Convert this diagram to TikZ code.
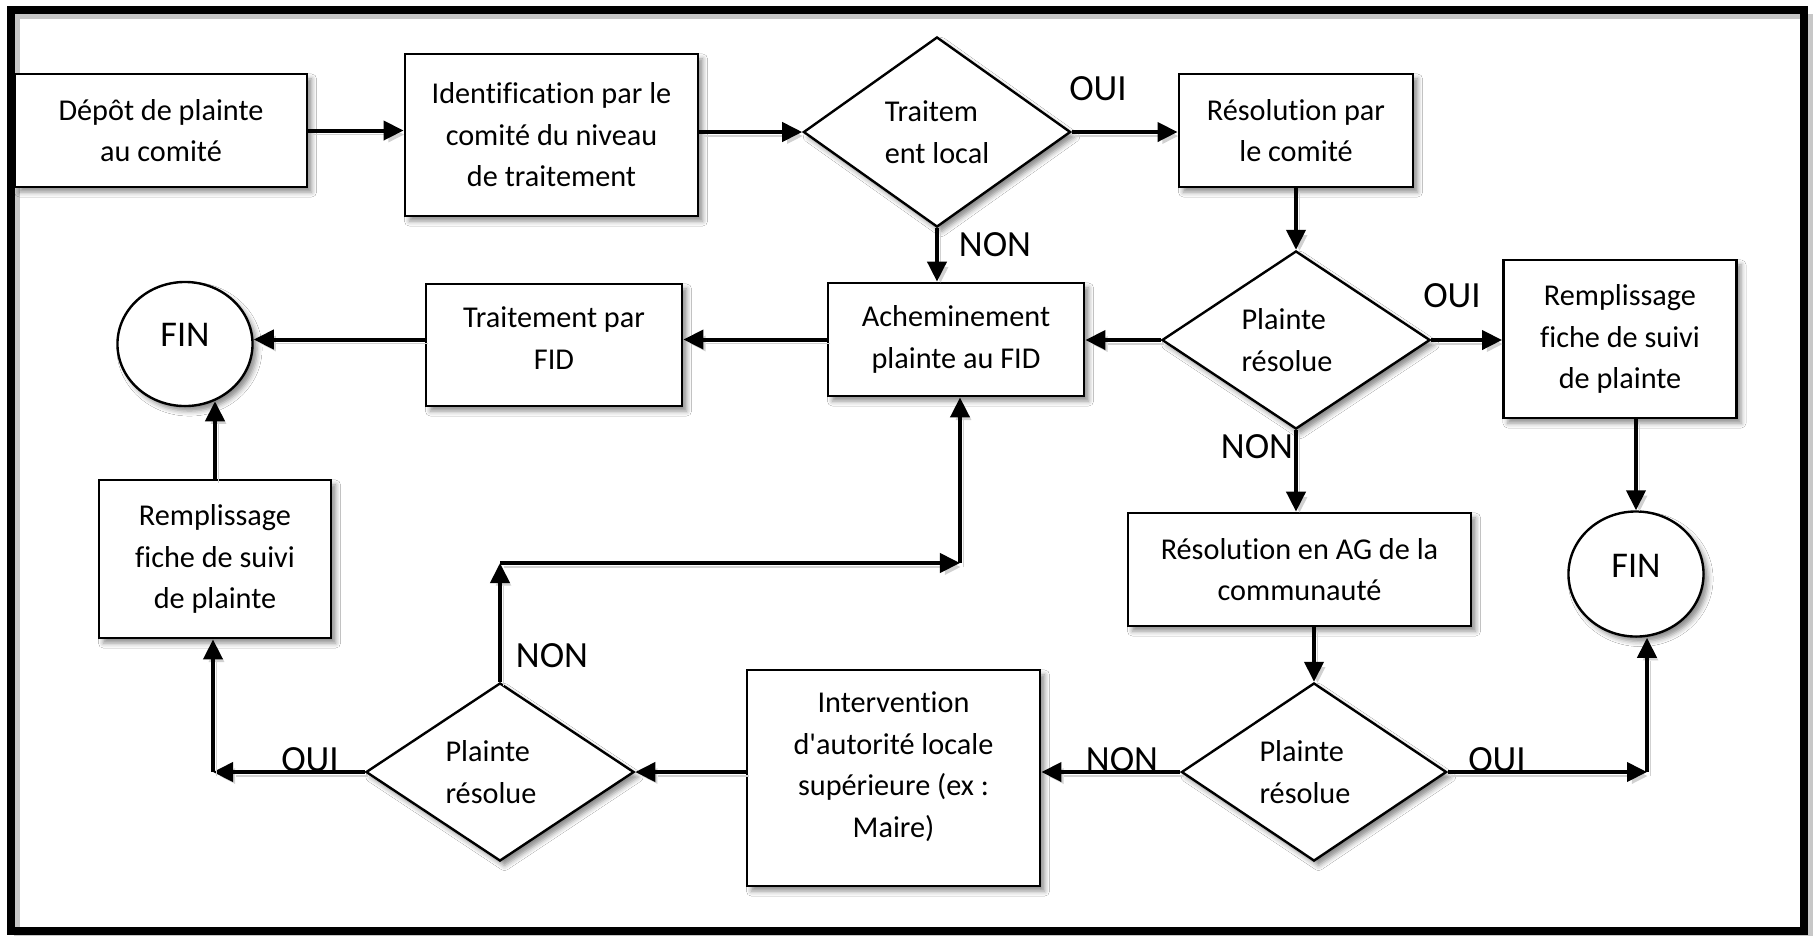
\documentclass[tikz,border=0pt]{standalone}
\usepackage{fontspec}
\setmainfont{Carlito}[Ligatures={TeXOff,NoCommon}]
\usetikzlibrary{arrows.meta,shapes.geometric,shadows.blur}
\newcommand{\txtfont}{\fontsize{8.6}{11.8}\selectfont}
\newcommand{\lblfont}{\fontsize{10.5}{12}\selectfont}
\newcommand{\finfont}{\fontsize{10.3}{12}\selectfont}
\begin{document}
\begin{tikzpicture}[x=0.01cm,y=-0.01cm,
  shad/.style={blur shadow={shadow xshift=0.045cm, shadow yshift=-0.05cm, shadow blur radius=0.05cm, shadow opacity=45}},
  box/.style={draw, line width=0.027cm, fill=white, align=center, font=\txtfont, inner sep=0pt, shad},
  dia/.style={diamond, draw, line width=0.024cm, fill=white, align=left, font=\txtfont, inner sep=0pt, shad},
  fin/.style={ellipse, draw, line width=0.024cm, fill=white, font=\finfont, inner sep=0pt, shad},
  lbl/.style={font=\lblfont, inner sep=0pt},
  arr/.style={line width=0.04cm, -{Triangle[length=0.2cm,width=0.19cm]},
    preaction={draw, black!18, transform canvas={shift={(0.035cm,-0.04cm)}}}},
]
\fill[white] (0,0) rectangle (1814,935);
\useasboundingbox (0,0) rectangle (1814,935);
% frame
\draw[line width=0.05cm, black!22] (17,16) rectangle (1810,937);
\draw[line width=0.08cm] (11,10) rectangle (1804,931);

% boxes
\node[box, minimum width=2.92cm, minimum height=1.13cm] (dep) at (161,130.5) {Dépôt de plainte\\au comité};
\node[box, minimum width=2.93cm, minimum height=1.62cm] (ident) at (551.5,135) {Identification par le\\comité du niveau\\de traitement};
\node[box, minimum width=2.34cm, minimum height=1.13cm] (res) at (1296,130.5) {Résolution par\\le comité};
\node[box, minimum width=2.56cm, minimum height=1.13cm] (ach) at (956,339.5) {Acheminement\\plainte au FID};
\node[box, minimum width=2.56cm, minimum height=1.22cm] (trt) at (554,345) {Traitement par\\FID\rule[-0.14cm]{0pt}{0pt}};
\node[box, minimum width=2.32cm, minimum height=1.58cm] (remL) at (215,559) {Remplissage\\fiche de suivi\\de plainte};
\node[box, minimum width=2.33cm, minimum height=1.58cm] (remR) at (1620,339) {Remplissage\\fiche de suivi\\de plainte};
\node[box, minimum width=3.43cm, minimum height=1.13cm] (ag) at (1299.5,569.5) {Résolution en AG de la\\communauté};
\node[box, minimum width=2.93cm, minimum height=2.16cm] (int) at (893.5,778) {Intervention\\d'autorité locale\\supérieure (ex :\\Maire)\rule[-0.27cm]{0pt}{0pt}};

% decisions
\node[dia, minimum width=2.67cm, minimum height=1.90cm] (d1) at (937,132) {Traitem\\ent local};
\node[dia, minimum width=2.68cm, minimum height=1.78cm] (d2) at (1296,340) {Plainte\\résolue\rule{0.18cm}{0pt}};
\node[dia, minimum width=2.65cm, minimum height=1.78cm] (d3) at (1314,772) {Plainte\\résolue\rule{0.18cm}{0pt}};
\node[dia, minimum width=2.68cm, minimum height=1.78cm] (d4) at (500,772) {Plainte\\résolue\rule{0.18cm}{0pt}};

% ends
\node[fin, minimum width=1.35cm, minimum height=1.24cm] (finL) at (185,344) {FIN\rule[-0.18cm]{0pt}{0pt}};
\node[fin, minimum width=1.35cm, minimum height=1.25cm] (finR) at (1636,574) {FIN\rule[-0.16cm]{0pt}{0pt}};

% bend points
\coordinate (cR) at (1647,772);
\coordinate (cL) at (213,772);
\coordinate (cM) at (500,563);
\coordinate (cN) at (960,563);

% connectors
\draw[arr] (dep.east) -- (dep.east -| ident.west);
\draw[arr] (ident.east |- d1.west) -- (d1.west);
\draw[arr] (d1.east) -- (d1.east -| res.west);
\draw[arr] (d1.south) -- (d1.south |- ach.north);
\draw[arr] (res.south) -- (d2.north);
\draw[arr] (d2.west) -- (d2.west -| ach.east);
\draw[arr] (d2.east) -- (d2.east -| remR.west);
\draw[arr] (ach.west) -- (ach.west -| trt.east);
\draw[arr] (trt.west |- ach.west) -- (finL.east |- ach.west);
\draw[arr] (remR.south -| finR.north) -- (finR.north);
\draw[arr] (d2.south) -- (d2.south |- ag.north);
\draw[arr] (ag.south -| d3.north) -- (d3.north);
\draw[arr] (d3.east) -- (cR);
\draw[arr] (cR) -- (cR |- finR.south);
\draw[arr] (d3.west) -- (d3.west -| int.east);
\draw[arr] (int.west |- d4.east) -- (d4.east);
\draw[arr] (d4.west) -- (cL);
\draw[arr] (cL) -- (cL |- remL.south);
\draw[arr] (remL.north) -- (remL.north |- finL.-63);
\draw[arr] (d4.north) -- (cM);
\draw[arr] (cM) -- (cN);
\draw[arr] (cN) -- (cN |- ach.south);

% labels
\node[lbl] (oui1) at (1098,89) {OUI};
\node[lbl] (non1) at (995,245) {NON};
\node[lbl] (oui2) at (1452,296) {OUI};
\node[lbl] (non2) at (1257,447) {NON};
\node[lbl] (non3) at (1122,760) {NON};
\node[lbl] (oui3) at (1497,760) {OUI};
\node[lbl] (oui4) at (310,760) {OUI};
\node[lbl] (non4) at (552,656) {NON};
\end{tikzpicture}
\end{document}
